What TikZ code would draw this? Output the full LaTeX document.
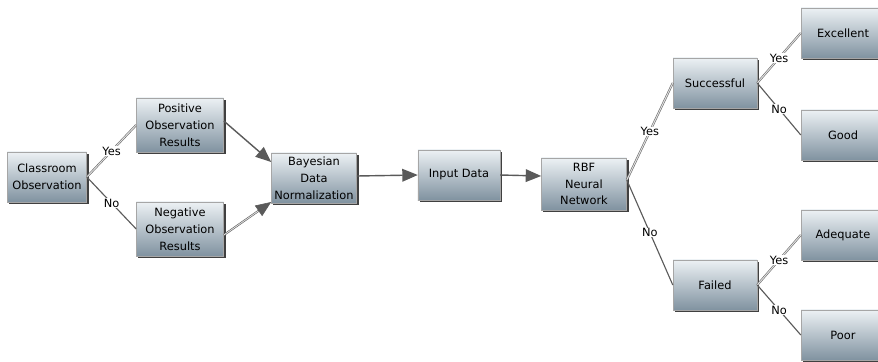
\documentclass[tikz,border=0pt]{standalone}
\usepackage{fontspec}
\newfontfamily\boxfont{DejaVu Sans}
\usetikzlibrary{arrows.meta,shadows}
\definecolor{boxtop}{RGB}{236,241,244}
\definecolor{boxbot}{RGB}{128,146,160}
\definecolor{edgegray}{RGB}{90,90,90}
\begin{document}
\begin{tikzpicture}[x=0.025cm,y=-0.025cm,
  box/.style={draw=gray!70,line width=0.3pt,top color=boxtop,bottom color=boxbot,
    align=center,font=\boxfont\fontsize{8.1}{12}\selectfont,inner sep=1pt,
    minimum width=2.1cm,minimum height=1.25cm,
    drop shadow={shadow xshift=1.4pt,shadow yshift=-1.4pt,fill=black!75,opacity=1}},
  yesline/.style={draw=gray!80!black,double=gray!25,double distance=0.7pt,line width=0.4pt},
  noline/.style={draw=edgegray,line width=0.8pt},
  flow/.style={draw=edgegray,line width=1pt,-{Triangle[length=11pt,width=9pt]}},
  lab/.style={fill=white,inner sep=0.5pt,font=\boxfont\fontsize{8.1}{9}\selectfont}]
 \useasboundingbox (0,0) rectangle (878,361);
 % input side
 \node[box,minimum width=1.98cm] (obs) at (47,177) {Classroom\\Observation};
 \node[box,minimum width=2.18cm,minimum height=1.35cm] (pos) at (180,125) {Positive\\Observation\\Results};
 \node[box,minimum width=2.18cm,minimum height=1.35cm] (neg) at (180,229) {Negative\\Observation\\Results};
 \node[box,minimum width=2.13cm] (bay) at (314,178) {Bayesian\\Data\\Normalization};
 \node[box,minimum width=2.05cm] (inp) at (459,175) {Input Data};
 \node[box,minimum width=2.13cm,minimum height=1.3cm] (rbf) at (584,184) {RBF\\Neural\\Network};
 % outcomes
 \node[box] (succ) at (715,83) {Successful};
 \node[box] (fail) at (715,285) {Failed};
 \node[box] (exc) at (843,33) {Excellent};
 \node[box] (good) at (843,135) {Good};
 \node[box] (adeq) at (843,235) {Adequate};
 \node[box] (poor) at (843,335) {Poor};
 %
 \draw[yesline] (obs.east) -- node[lab] {Yes} (pos.west);
 \draw[noline] (obs.east) -- node[lab] {No} (neg.west);
 \draw[flow] ([yshift=0.1cm]pos.east) -- ([yshift=0.4cm]bay.west);
 \draw[flow,double=gray!25,double distance=0.6pt,line width=0.4pt] ([yshift=-0.15cm]neg.east) -- ([yshift=-0.6cm]bay.west);
 \draw[flow] ([yshift=0.05cm]bay.east) -- (inp.west);
 \draw[flow] (inp.east) -- ([yshift=0.2cm]rbf.west);
 %
 \draw[yesline] ([yshift=0.1cm]rbf.east) -- node[lab] {Yes} (succ.west);
 \draw[noline] ([yshift=0.1cm]rbf.east) -- node[lab] {No} (fail.west);
 \draw[yesline] (succ.east) -- node[lab] {Yes} (exc.west);
 \draw[noline] (succ.east) -- node[lab] {No} (good.west);
 \draw[yesline] (fail.east) -- node[lab] {Yes} (adeq.west);
 \draw[noline] (fail.east) -- node[lab] {No} (poor.west);
\end{tikzpicture}
\end{document}
